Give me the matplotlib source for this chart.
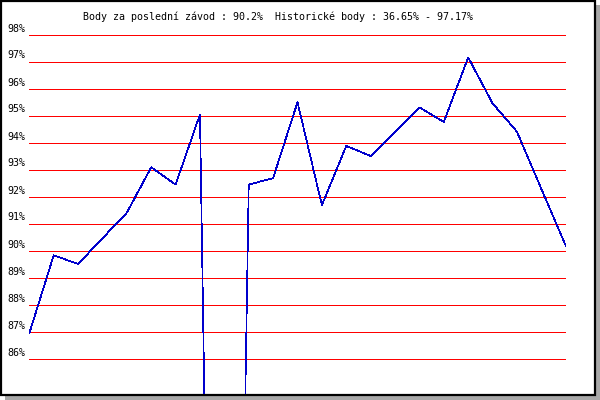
import matplotlib
matplotlib.use("Agg")
import matplotlib.pyplot as plt
from matplotlib.patches import Rectangle
import matplotlib.transforms as mtransforms

# points per race
races = list(range(23))
points = [86.95, 89.84, 89.52, 90.47, 91.42, 93.10, 92.46, 95.06, 36.65,
          92.46, 92.70, 95.51, 91.70, 93.89, 93.52, 94.42, 95.32, 94.78,
          97.17, 95.47, 94.42, 92.30, 90.20]
grid_levels = [98, 97, 96, 95, 94, 93, 92, 91, 90, 89, 88, 87, 86]
tick_labels = [f"{v}%" for v in grid_levels]
title = "Body za poslední závod : 90.2%  Historické body : 36.65% - 97.17%"

W, H = 600, 400
fig = plt.figure(figsize=(6, 4), dpi=100)
fig.patch.set_facecolor("white")

# frame with grey drop shadow (kept below the axes)
fig.patches.append(Rectangle((5 / W, 0), 595 / W, 395 / H, transform=fig.transFigure,
                             facecolor="#a8a8a8", edgecolor="none", zorder=-3))
fig.patches.append(Rectangle((1 / W, 5 / H), 594 / W, 394 / H, transform=fig.transFigure,
                             facecolor="white", edgecolor="black", linewidth=1.6, zorder=-2))

# plot area: x 29.3..565.7 px, 98% at y=35 px, 27 px per percent
px_per = 27.0
top_px, bot_px = 25, 394
left_px, right_px = 29.3, 565.7
ax = fig.add_axes([left_px / W, (H - bot_px) / H, (right_px - left_px) / W, (bot_px - top_px) / H])
ax.set_xlim(0, 22)
ax.set_ylim(98 - (bot_px - 35) / px_per, 98 + (35 - top_px) / px_per)
ax.patch.set_visible(False)
for s in ax.spines.values():
    s.set_visible(False)
ax.set_xticks([])
ax.set_yticks([])

# 1 px lines, no smoothing, like the original bitmap chart
for lv in grid_levels:
    ax.axhline(lv, color="#ff0000", linewidth=0.72, zorder=1, antialiased=False)

ax.plot(races, points, color="#0000cc", linewidth=0.5, zorder=2, antialiased=False)

lab_tr = mtransforms.offset_copy(ax.get_yaxis_transform(), fig=fig, x=-3.5, y=3.5, units="dots")
for lv, lab in zip(grid_levels, tick_labels):
    ax.text(0, lv, lab, transform=lab_tr, ha="right", va="baseline",
            family="DejaVu Sans Mono", fontsize=7.2, color="black")

fig.text(277.7 / W, 1 - 19.5 / H, title, ha="center", va="baseline",
         family="DejaVu Sans Mono", fontsize=7.2, color="black")

fig.savefig("out.png", dpi=100, facecolor="white")
